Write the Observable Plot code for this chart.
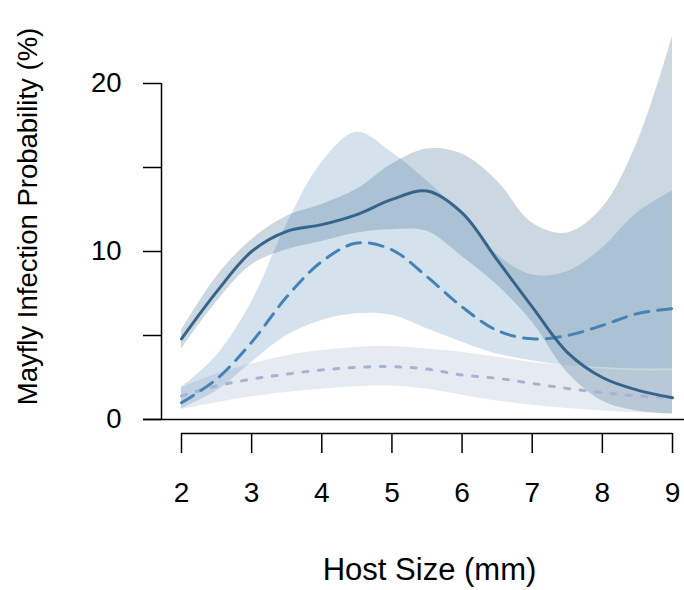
<!DOCTYPE html>
<html><head><meta charset="utf-8">
<script src="https://cdn.jsdelivr.net/npm/d3@7"></script>
<script src="https://cdn.jsdelivr.net/npm/@observablehq/plot@0.6"></script>
<style>
body{margin:0;background:#fff}
svg{font-family:"Liberation Sans",Arial,Helvetica,sans-serif}
</style>
</head><body><div id="chart"></div>
<script>
// Host size grid (mm)
const hostSize    = [2, 2.5, 3, 3.5, 4, 4.5, 5, 5.5, 6, 6.5, 7, 7.5, 8, 8.5, 9];
// Solid series (mean + interval)
const solidMean   = [4.8, 7.6, 10.0, 11.2, 11.6, 12.2, 13.1, 13.6, 12.3, 9.5, 6.7, 4.0, 2.5, 1.75, 1.3];
const solidLower  = [4.2, 7.0, 9.2, 10.1, 10.6, 11.1, 11.3, 11.2, 9.7, 8.0, 5.8, 2.8, 1.1, 0.5, 0.3];
const solidUpper  = [5.3, 8.5, 10.7, 12.1, 12.8, 13.7, 15.2, 16.1, 15.8, 14.2, 11.7, 11.1, 12.6, 16.5, 22.8];
// Dashed series
const dashedMean  = [1.0, 2.4, 4.6, 7.3, 9.4, 10.5, 10.1, 8.5, 6.7, 5.3, 4.8, 5.0, 5.6, 6.3, 6.6];
const dashedLower = [0.65, 1.7, 3.4, 5.0, 5.9, 6.3, 6.2, 5.4, 4.6, 3.9, 3.5, 3.2, 3.1, 3.0, 3.0];
const dashedUpper = [1.9, 3.8, 7.0, 11.6, 15.3, 17.1, 15.9, 14.2, 12.2, 9.8, 8.6, 8.8, 10.2, 12.3, 13.6];
// Dotted series
const dottedMean  = [1.4, 2.0, 2.4, 2.7, 2.95, 3.1, 3.15, 3.0, 2.65, 2.45, 2.15, 1.85, 1.6, 1.4, 1.3];
const dottedLower = [0.6, 1.0, 1.35, 1.6, 1.8, 1.95, 2.0, 1.8, 1.45, 1.1, 0.85, 0.65, 0.5, 0.4, 0.35];
const dottedUpper = [1.9, 2.7, 3.3, 3.8, 4.1, 4.3, 4.35, 4.2, 4.0, 3.7, 3.4, 3.2, 3.0, 2.9, 2.9];

const xTicks = [2, 3, 4, 5, 6, 7, 8, 9];
const yTicks = [0, 5, 10, 15, 20];
const yTickLabels = ["0", "", "10", "", "20"];
const xTitle = "Host Size (mm)";
const yTitle = "Mayfly Infection Probability (%)";

const table = (mean, lo, hi) => hostSize.map((x, i) => ({x, mean: mean[i], lo: lo[i], hi: hi[i]}));
const solid = table(solidMean, solidLower, solidUpper);
const dashed = table(dashedMean, dashedLower, dashedUpper);
const dotted = table(dottedMean, dottedLower, dottedUpper);

const curve = "catmull-rom";
const font = "Liberation Sans, Arial, sans-serif";

const chart = Plot.plot({
  width: 684,
  height: 590,
  marginLeft: 161,
  marginRight: 12,
  marginTop: 83,
  marginBottom: 157,
  style: {fontFamily: font, background: "white", overflow: "visible"},
  x: {domain: [2, 9], insetLeft: 20},
  y: {domain: [0, 20], insetBottom: 14},
  marks: [
    Plot.areaY(dotted, {x: "x", y1: "lo", y2: "hi", fill: "#A2B5CD", fillOpacity: 0.27, curve}),
    Plot.areaY(dashed, {x: "x", y1: "lo", y2: "hi", fill: "steelblue", fillOpacity: 0.23, curve}),
    Plot.areaY(solid, {x: "x", y1: "lo", y2: "hi", fill: "#36648B", fillOpacity: 0.26, curve}),
    Plot.lineY(dotted, {x: "x", y: "mean", stroke: "#A7B3D3", strokeWidth: 3, strokeDasharray: "5,10.5", curve}),
    Plot.lineY(dashed, {x: "x", y: "mean", stroke: "#4682B4", strokeWidth: 3, strokeDasharray: "14,9", curve}),
    Plot.lineY(solid, {x: "x", y: "mean", stroke: "#36648B", strokeWidth: 3, curve}),
    // horizontal line at zero
    Plot.ruleY([0], {insetLeft: -18, insetRight: -12, stroke: "black", strokeWidth: 1.5}),
    // y axis line
    Plot.ruleX([xTicks[0]], {y1: yTicks[0], y2: yTicks[yTicks.length - 1], dx: -20, stroke: "black", strokeWidth: 1.5}),
    Plot.axisY({ticks: yTicks, tickSize: 18, tickPadding: 22, tickFormat: (d) => yTickLabels[yTicks.indexOf(d)],
      fontSize: 27.5, stroke: "black", strokeWidth: 1.5, fill: "black", label: null}),
    // x axis line (offset below zero)
    Plot.ruleY([0], {x1: xTicks[0], x2: xTicks[xTicks.length - 1], dy: 14, stroke: "black", strokeWidth: 1.5}),
    Plot.axisX({ticks: xTicks, tickSize: 20, tickPadding: 29, tickFormat: (d) => String(d), fontSize: 28,
      stroke: "black", strokeWidth: 1.5, fill: "black", label: null}),
    Plot.text([xTitle], {frameAnchor: "bottom", dx: 12.5, dy: 137, fontSize: 31, fill: "black", lineAnchor: "middle"}),
    Plot.text([yTitle], {frameAnchor: "left", textAnchor: "middle", rotate: -90, dx: -133, dy: -42, fontSize: 27.5, fill: "black", lineAnchor: "middle"})
  ]
});
document.getElementById("chart").appendChild(chart);
</script>
</body></html>
